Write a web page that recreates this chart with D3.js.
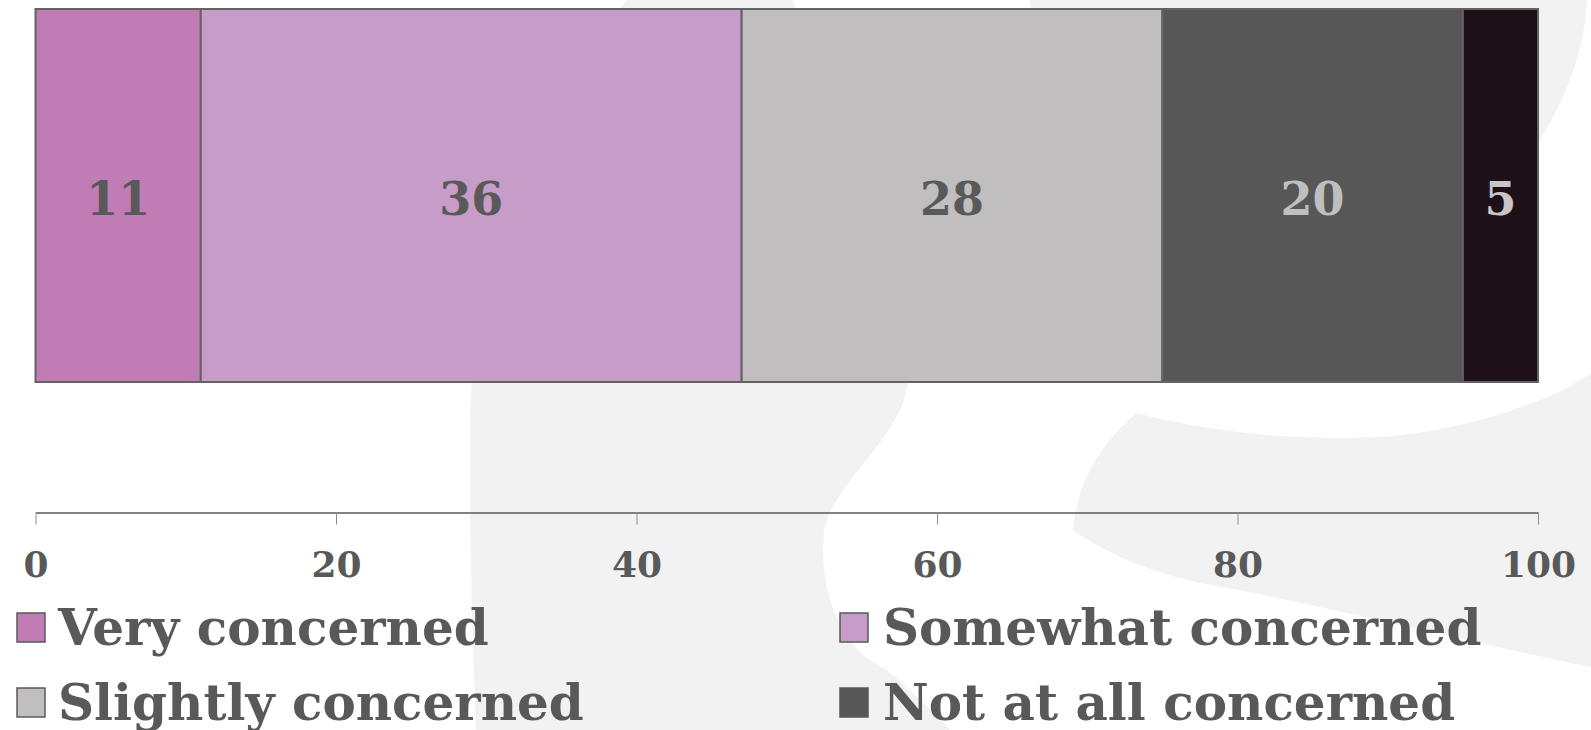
<!DOCTYPE html>
<html>
<head>
<meta charset="utf-8">
<script src="https://cdn.jsdelivr.net/npm/d3@7"></script>
<style>
	body { margin: 0; background: #fff; overflow: hidden; }
	.axis path { stroke: #595959; stroke-width: 1.5; }
	.axis line { stroke: #8c8c8c; }
	.axis text { font-family: 'DejaVu Serif', serif; font-weight: bold; font-size: 36px; fill: #595959; }
</style>
</head>
<body>
<div id="vis"></div>
<script>
	var categories = ['Very concerned', 'Somewhat concerned', 'Slightly concerned', 'Not at all concerned', 'No answer'];
	var values = [11, 36, 28, 20, 5];
	var colors = ['#c17bb5', '#c79cc8', '#c0bebf', '#575757', '#1d1019'];
	var labelColors = ['#595959', '#595959', '#595959', '#bfbfbf', '#c8c4c8'];
	var tickValues = [0, 20, 40, 60, 80, 100];
	var legendKeys = categories.slice(0, 4);

	var width = 1591,
		height = 730;

	var margin = {
		left: 35.5,
		right: 53,
		top: 9,
		bottom: 348
	};

	var svg = d3.select('#vis')
		.append('svg')
		.attr('width', width)
		.attr('height', height);

	// watermark shapes behind the chart
	var bg = svg.append('g').attr('fill', '#f2f2f2');
	bg.append('path')
		.attr('d', 'M627,0 L792,0 C850,120 902,280 908,383 C900,440 835,480 824,530 C818,590 840,650 887,670 C910,690 935,712 950,730 L476,730 C472,620 469,520 470,420 C472,280 530,110 627,0 Z');
	bg.append('path')
		.attr('d', 'M1030,0 L1587,0 C1585,50 1565,100 1540,140 C1480,230 1300,300 1150,300 C1080,250 1040,120 1030,0 Z');
	bg.append('path')
		.attr('d', 'M1136,413 C1220,434 1300,441 1380,437 C1450,432 1515,412 1563,390 L1591,374 L1591,667 C1460,640 1300,600 1200,583 C1150,572 1105,553 1073,530 C1078,480 1100,445 1136,413 Z');

	var x = d3.scaleLinear()
		.domain([0, 100])
		.range([margin.left, width - margin.right]);

	var y = d3.scaleBand()
		.domain(['all'])
		.range([margin.top, height - margin.bottom])
		.padding(0);

	var ends = d3.cumsum(values);
	var segs = values.map(function(v, i) {
		return { key: categories[i], value: v, x0: ends[i] - v, x1: ends[i], i: i };
	});

	var bar = svg.append('g');

	bar.selectAll('rect')
		.data(segs)
		.enter().append('rect')
			.attr('x', function(d) { return x(d.x0); })
			.attr('y', y('all'))
			.attr('width', function(d) { return x(d.x1) - x(d.x0); })
			.attr('height', y.bandwidth())
			.attr('fill', function(d) { return colors[d.i]; })
			.attr('stroke', '#636363')
			.attr('stroke-width', 2);

	bar.selectAll('text')
		.data(segs)
		.enter().append('text')
			.attr('x', function(d) { return (x(d.x0) + x(d.x1)) / 2; })
			.attr('y', y('all') + y.bandwidth() / 2 + 19)
			.attr('text-anchor', 'middle')
			.attr('font-family', 'DejaVu Serif, serif')
			.attr('font-weight', 'bold')
			.attr('font-size', 46)
			.attr('fill', function(d) { return labelColors[d.i]; })
			.text(function(d) { return d.value; });

	var axisY = 512.5;
	svg.append('g')
		.attr('class', 'axis')
		.attr('transform', 'translate(0,' + axisY + ')')
		.call(d3.axisBottom(x).tickValues(tickValues).tickSize(12).tickSizeOuter(0))
		.selectAll('text')
			.attr('y', 64)
			.attr('dy', 0);

	// legend, two columns
	var legend = svg.append('g')
		.selectAll('g')
		.data(legendKeys)
		.enter().append('g')
			.attr('transform', function(d, i) {
				return 'translate(' + [17, 840][i % 2] + ',' + (613 + Math.floor(i / 2) * 75) + ')';
			});

	legend.append('rect')
		.attr('width', 28)
		.attr('height', 29)
		.attr('fill', function(d, i) { return colors[i]; })
		.attr('stroke', '#595959')
		.attr('stroke-width', 1.5);

	legend.append('text')
		.attr('x', function(d, i) { return i % 2 ? 43 : 41; })
		.attr('y', 32)
		.attr('font-family', 'DejaVu Serif, serif')
		.attr('font-weight', 'bold')
		.attr('font-size', 50)
		.attr('fill', '#595959')
		.text(function(d) { return d; });
</script>
</body>
</html>
